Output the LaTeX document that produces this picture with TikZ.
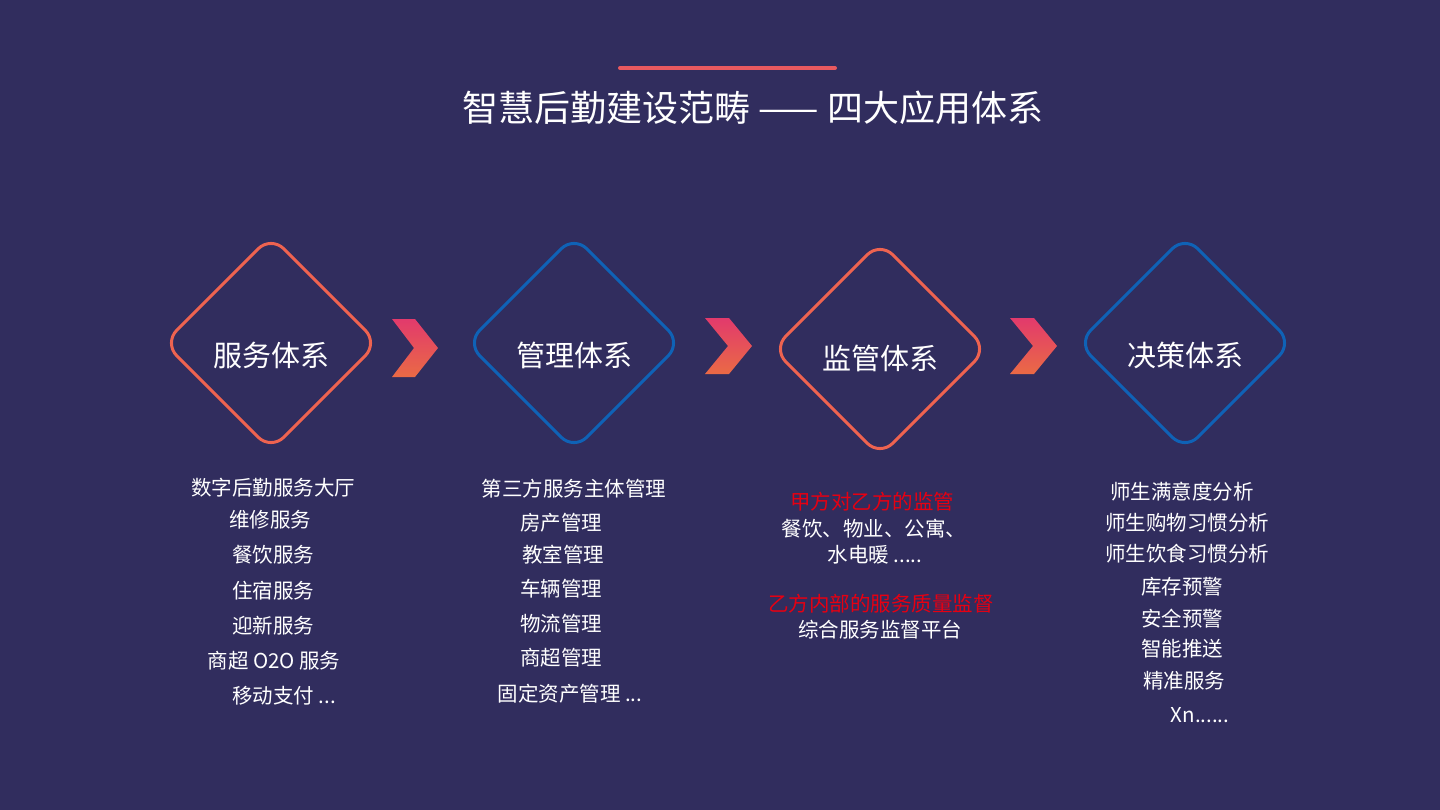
\documentclass[tikz,border=0pt]{standalone}
\usepackage{fontspec}
\setmainfont{Noto Sans CJK SC}
\definecolor{bgnavy}{HTML}{312D5E}
\definecolor{ringred}{HTML}{EE6350}
\definecolor{ringblue}{HTML}{0F62B6}
\definecolor{notered}{HTML}{E60012}
\definecolor{chevtop}{HTML}{E23A6C}
\definecolor{chevbot}{HTML}{EA6A45}
\definecolor{titleline}{HTML}{E8595F}
\tikzset{
  ring/.style={line width=3pt, rounded corners=18pt},
  ringlabel/.style={text=white, inner sep=0pt, font=\fontsize{29}{29}\selectfont},
  item/.style={text=white, inner sep=0pt, font=\fontsize{20.5}{21}\selectfont},
  redtext/.style={item, text=notered},
  chevron/.style={top color=chevtop, bottom color=chevbot},
}
\begin{document}
\begin{tikzpicture}[x=1pt,y=-1pt]
	    \fill[bgnavy](0,0) rectangle (1440,810);
	    \useasboundingbox(0,0) rectangle (1440,810);
	    % title
	    \coordinate (lineL) at (620,68);
	    \coordinate (lineR) at (835,68);
	    \draw[titleline,line width=4pt,line cap=round](lineL)--(lineR);
	    \node[text=white,font=\fontsize{36}{36}\selectfont] (title) at (753,108) {智慧后勤建设范畴 —— 四大应用体系};
	    % diamonds
	    \draw[ring,ringred](271,236)--(378,343)--(271,450)--(164,343)--cycle;
	    \draw[ring,ringblue](574,236)--(681,343)--(574,450)--(467,343)--cycle;
	    \draw[ring,ringred](880,242)--(987,349)--(880,456)--(773,349)--cycle;
	    \draw[ring,ringblue](1185,236)--(1292,343)--(1185,450)--(1078,343)--cycle;
	    \node[ringlabel] (fuwu) at (271,355) {服务体系};
	    \node[ringlabel] (guanli) at (574,355) {管理体系};
	    \node[ringlabel] (jianguan) at (880,358) {监管体系};
	    \node[ringlabel] (juece) at (1185,355) {决策体系};
	    % chevrons
	    \shade[chevron](392,319)--(415,319)--(438,348)--(415,377)--(392,377)--(414,348)--cycle;
	    \shade[chevron](705,318)--(729,318)--(752,346)--(729,374)--(705,374)--(728,346)--cycle;
	    \shade[chevron](1010,318)--(1034,318)--(1057,346)--(1034,374)--(1010,374)--(1033,346)--cycle;
	    % service items
	    \node[item] (s1) at (273,488) {数字后勤服务大厅};
	    \node[item] (s2) at (270,520) {维修服务};
	    \node[item] (s3) at (273,555) {餐饮服务};
	    \node[item] (s4) at (273,591) {住宿服务};
	    \node[item] (s5) at (273,626) {迎新服务};
	    \node[item] (s6) at (274,661) {商超 O2O 服务};
	    \node[item] (s7) at (284,696) {移动支付 ...};
	    % management items
	    \node[item] (m1) at (574,489) {第三方服务主体管理};
	    \node[item] (m2) at (561,523) {房产管理};
	    \node[item] (m3) at (563,555) {教室管理};
	    \node[item] (m4) at (561,589) {车辆管理};
	    \node[item] (m5) at (561,624) {物流管理};
	    \node[item] (m6) at (561,658) {商超管理};
	    \node[item] (m7) at (570,694) {固定资产管理 ...};
	    % supervision items
	    \node[redtext] (j1) at (872,502) {甲方对乙方的监管};
	    \node[item] (j2) at (874,529) {餐饮、物业、公寓、};
	    \node[item] (j3) at (875,555) {水电暖 .....};
	    \node[redtext] (j4) at (881,604) {乙方内部的服务质量监督};
	    \node[item] (j5) at (880,630) {综合服务监督平台};
	    % decision items
	    \node[item] (d1) at (1182,492) {师生满意度分析};
	    \node[item] (d2) at (1187,523) {师生购物习惯分析};
	    \node[item] (d3) at (1187,554) {师生饮食习惯分析};
	    \node[item] (d4) at (1182,587) {库存预警};
	    \node[item] (d5) at (1182,619) {安全预警};
	    \node[item] (d6) at (1182,649) {智能推送};
	    \node[item] (d7) at (1184,681) {精准服务};
	    \node[item] (d8) at (1200,715) {Xn......};
	\end{tikzpicture}
\end{document}
